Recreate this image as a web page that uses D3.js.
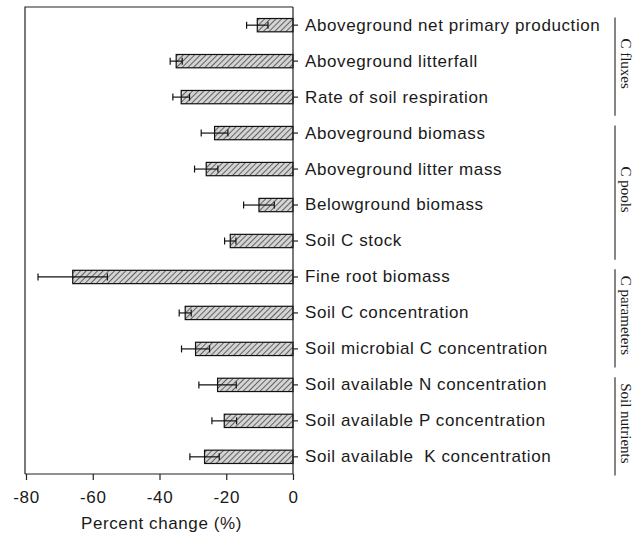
<!DOCTYPE html>
<html>
<head>
<meta charset="utf-8">
<script src="https://cdn.jsdelivr.net/npm/d3@7/dist/d3.min.js"></script>
<style>
  body { margin: 0; background: #fff; }
  svg text { fill: #1a1a1a; }
</style>
</head>
<body>
<script>
// categories, top to bottom
var categories = [
  "Aboveground net primary production",
  "Aboveground litterfall",
  "Rate of soil respiration",
  "Aboveground biomass",
  "Aboveground litter mass",
  "Belowground biomass",
  "Soil C stock",
  "Fine root biomass",
  "Soil C concentration",
  "Soil microbial C concentration",
  "Soil available N concentration",
  "Soil available P concentration",
  "Soil available  K concentration"
];
// mean percent change
var values = [-10.7, -35, -33.5, -23.5, -26, -10.2, -18.8, -66, -32.3, -29.2, -22.6, -20.6, -26.5];
// error (+/-)
var errors = [3.2, 1.8, 2.5, 4.0, 3.5, 4.6, 1.7, 10.4, 1.8, 4.2, 5.6, 3.7, 4.4];
var xTicks = [-80, -60, -40, -20, 0];
// groups: label, first index, last index
var groupLabels = ["C fluxes", "C pools", "C parameters", "Soil nutrients"];
var groupStart = [0, 3, 7, 10];
var groupEnd = [2, 6, 9, 12];

var W = 638, H = 537;
var sans = "'Liberation Sans', Arial, sans-serif";
var svg = d3.select("body").append("svg")
    .attr("width", W)
    .attr("height", H);

var x = d3.scaleLinear().domain([-80, 0]).range([26, 293]);
var y = d3.scaleBand().domain(categories).range([7, 475]).paddingInner(0.63).paddingOuter(0.32);

// hatch pattern
var defs = svg.append("defs");
var pat = defs.append("pattern")
    .attr("id", "hatch")
    .attr("patternUnits", "userSpaceOnUse")
    .attr("width", 4)
    .attr("height", 4)
    .attr("patternTransform", "rotate(45)");
pat.append("rect").attr("width", 4).attr("height", 4).attr("fill", "#d4d4d4");
pat.append("line")
    .attr("x1", 0).attr("y1", 0).attr("x2", 0).attr("y2", 4)
    .attr("stroke", "#222").attr("stroke-width", 1.3);

// frame (left and top)
svg.append("path")
    .attr("d", "M" + x(0) + ",7H25V474")
    .attr("fill", "none")
    .attr("stroke", "#222")
    .attr("stroke-width", 1.2);

// bars
svg.selectAll("rect.bar")
    .data(categories)
    .enter().append("rect")
    .attr("class", "bar")
    .attr("x", function(d, i) { return x(values[i]); })
    .attr("y", function(d) { return y(d); })
    .attr("width", function(d, i) { return x(0) - x(values[i]); })
    .attr("height", y.bandwidth())
    .attr("fill", "url(#hatch)")
    .attr("stroke", "#111")
    .attr("stroke-width", 1.2);

// error bars
var eb = svg.selectAll("g.err")
    .data(categories)
    .enter().append("g")
    .attr("class", "err")
    .attr("stroke", "#111")
    .attr("stroke-width", 1.2);
eb.append("line")
    .attr("x1", function(d, i) { return x(values[i] - errors[i]); })
    .attr("x2", function(d, i) { return x(values[i] + errors[i]); })
    .attr("y1", function(d) { return y(d) + y.bandwidth() / 2; })
    .attr("y2", function(d) { return y(d) + y.bandwidth() / 2; });
eb.append("line")
    .attr("x1", function(d, i) { return x(values[i] - errors[i]); })
    .attr("x2", function(d, i) { return x(values[i] - errors[i]); })
    .attr("y1", function(d) { return y(d) + y.bandwidth() / 2 - 3.5; })
    .attr("y2", function(d) { return y(d) + y.bandwidth() / 2 + 3.5; });
eb.append("line")
    .attr("x1", function(d, i) { return x(values[i] + errors[i]); })
    .attr("x2", function(d, i) { return x(values[i] + errors[i]); })
    .attr("y1", function(d) { return y(d) + y.bandwidth() / 2 - 3.5; })
    .attr("y2", function(d) { return y(d) + y.bandwidth() / 2 + 3.5; });

// x axis
var xAxis = svg.append("g")
    .attr("transform", "translate(0,474)")
    .call(d3.axisBottom(x).tickValues(xTicks).tickSize(6).tickSizeOuter(0).tickFormat(d3.format("d")));
xAxis.select(".domain").attr("stroke", "#222").attr("stroke-width", 1.2).attr("d", "M25,0H" + x(0));
xAxis.selectAll(".tick line").attr("stroke", "#222").attr("stroke-width", 1.2);
xAxis.selectAll(".tick text")
    .attr("dy", "1.2em")
    .style("font-family", sans)
    .style("font-size", "17px")
    .style("letter-spacing", "0.6px")
    .text(function(d) { return d < 0 ? "-" + Math.abs(d) : d; });

// y axis at zero (labels on the right)
var yAxis = svg.append("g")
    .attr("transform", "translate(" + x(0) + ",0)")
    .call(d3.axisRight(y).tickSize(5).tickSizeOuter(0).tickPadding(7));
yAxis.select(".domain").attr("stroke", "#222").attr("stroke-width", 1.2).attr("d", "M0,7V474");
yAxis.selectAll(".tick line").attr("stroke", "#222").attr("stroke-width", 1.2);
yAxis.selectAll(".tick text")
    .style("font-family", sans)
    .style("font-size", "17px")
    .style("letter-spacing", "0.6px")
    .style("white-space", "pre");

// x axis title
svg.append("text")
    .attr("x", (x(-80) + x(0)) / 2 + 2)
    .attr("y", 529)
    .attr("text-anchor", "middle")
    .style("font-family", sans)
    .style("font-size", "17px")
    .style("letter-spacing", "0.6px")
    .text("Percent change (%)");

// group brackets
var grp = svg.selectAll("g.grp")
    .data(groupLabels)
    .enter().append("g")
    .attr("class", "grp");
grp.append("line")
    .attr("x1", 615).attr("x2", 615)
    .attr("y1", function(d, i) { return y(categories[groupStart[i]]) - 1; })
    .attr("y2", function(d, i) { return y(categories[groupEnd[i]]) + y.bandwidth() + 12; })
    .attr("stroke", "#333")
    .attr("stroke-width", 1.2);
grp.append("text")
    .attr("transform", function(d, i) {
      var a = y(categories[groupStart[i]]) - 1;
      var b = y(categories[groupEnd[i]]) + y.bandwidth() + 12;
      return "translate(621," + ((a + b) / 2 - 3) + ") rotate(90)";
    })
    .attr("text-anchor", "middle")
    .style("font-family", "'Liberation Serif', 'Times New Roman', serif")
    .style("font-size", "15px")
    .text(function(d) { return d; });
</script>
</body>
</html>
